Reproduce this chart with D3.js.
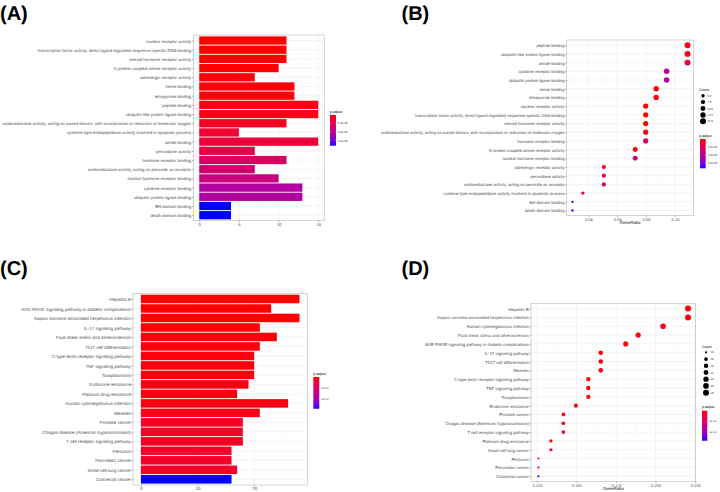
<!DOCTYPE html>
<html><head><meta charset="utf-8">
<script src="https://cdn.jsdelivr.net/npm/d3@7"></script>
<style>body{margin:0;background:#fff}svg{display:block}text{font-family:"Liberation Sans",Arial,sans-serif;text-rendering:geometricPrecision}</style>
</head><body>
<script>
// ---------- GO (panels A, B) ----------
const goTerms = [
 "nuclear receptor activity",
 "transcription factor activity, direct ligand regulated sequence-specific DNA binding",
 "steroid hormone receptor activity",
 "G protein-coupled amine receptor activity",
 "adrenergic receptor activity",
 "heme binding",
 "tetrapyrrole binding",
 "peptide binding",
 "ubiquitin-like protein ligase binding",
 "oxidoreductase activity, acting on paired donors, with incorporation or reduction of molecular oxygen",
 "cysteine-type endopeptidase activity involved in apoptotic process",
 "amide binding",
 "peroxidase activity",
 "hormone receptor binding",
 "oxidoreductase activity, acting on peroxide as acceptor",
 "nuclear hormone receptor binding",
 "cytokine receptor binding",
 "ubiquitin protein ligase binding",
 "BH domain binding",
 "death domain binding"
];
const goCounts = [11,11,11,10,7,12,12,15,15,11,5,15,7,11,7,10,13,13,4,4];
const goPadj = [2.0e-7,2.1e-7,2.2e-7,3.0e-7,4.0e-7,5.0e-7,5.0e-7,8.0e-7,9.0e-7,1.6e-6,2.5e-6,3.1e-6,4.1e-6,6.1e-6,7.0e-6,8.2e-6,1.09e-5,1.09e-5,1.8e-5,1.8e-5];
const goTotal = 138;
const goDotOrder = [
 "peptide binding","ubiquitin-like protein ligase binding","amide binding",
 "cytokine receptor binding","ubiquitin protein ligase binding",
 "heme binding","tetrapyrrole binding",
 "nuclear receptor activity",
 "transcription factor activity, direct ligand regulated sequence-specific DNA binding",
 "steroid hormone receptor activity",
 "oxidoreductase activity, acting on paired donors, with incorporation or reduction of molecular oxygen",
 "hormone receptor binding",
 "G protein-coupled amine receptor activity","nuclear hormone receptor binding",
 "adrenergic receptor activity","peroxidase activity",
 "oxidoreductase activity, acting on peroxide as acceptor",
 "cysteine-type endopeptidase activity involved in apoptotic process",
 "BH domain binding","death domain binding"
];
const goBarTicks = [0,5,10,15];
const goRatioTicks = [0.04,0.06,0.08,0.10];
const goPTicks = [5e-6,1e-5,1.5e-5];
const goPTickLabels = ["5.0e-06","1.0e-05","1.5e-05"];
const goCountTicks = [5,7.5,10,12.5,15];
const goCountTickLabels = ["5.0","7.5","10.0","12.5","15.0"];

// ---------- KEGG (panels C, D) ----------
const keggTerms = [
 "Hepatitis B",
 "AGE-RAGE signaling pathway in diabetic complications",
 "Kaposi sarcoma-associated herpesvirus infection",
 "IL-17 signaling pathway",
 "Fluid shear stress and atherosclerosis",
 "Th17 cell differentiation",
 "C-type lectin receptor signaling pathway",
 "TNF signaling pathway",
 "Toxoplasmosis",
 "Endocrine resistance",
 "Platinum drug resistance",
 "Human cytomegalovirus infection",
 "Measles",
 "Prostate cancer",
 "Chagas disease (American trypanosomiasis)",
 "T cell receptor signaling pathway",
 "Pertussis",
 "Pancreatic cancer",
 "Small cell lung cancer",
 "Colorectal cancer"
];
const keggCounts = [28,23,28,21,24,21,20,20,20,19,17,26,21,18,18,18,16,16,17,16];
const keggPadj = [3e-14,4e-14,5e-14,6e-14,7e-14,8e-14,9e-14,9e-14,9e-14,1.0e-13,1.1e-13,1.2e-13,1.4e-13,2.6e-13,2.6e-13,2.6e-13,3.0e-13,3.0e-13,3.1e-13,2.83e-12];
const keggTotal = 127;
const keggDotOrder = [
 "Hepatitis B","Kaposi sarcoma-associated herpesvirus infection","Human cytomegalovirus infection",
 "Fluid shear stress and atherosclerosis","AGE-RAGE signaling pathway in diabetic complications",
 "IL-17 signaling pathway","Th17 cell differentiation","Measles",
 "C-type lectin receptor signaling pathway","TNF signaling pathway","Toxoplasmosis",
 "Endocrine resistance","Prostate cancer","Chagas disease (American trypanosomiasis)",
 "T cell receptor signaling pathway","Platinum drug resistance","Small cell lung cancer",
 "Pertussis","Pancreatic cancer","Colorectal cancer"
];
const keggBarTicks = [0,10,20];
const keggRatioTicks = [0.125,0.150,0.175,0.200,0.225];
const keggPTicks = [1e-12,2e-12];
const keggPTickLabels = ["1e-12","2e-12"];
const keggCountTicks = [16,18,20,22,24,26,28];
const keggCountTickLabels = ["16","18","20","22","24","26","28"];

const panelLabels = ["(A)","(B)","(C)","(D)"];

// ---------- drawing ----------
const W = 720, H = 492;
const svg = d3.select("body").append("svg").attr("width", W).attr("height", H);
svg.append("rect").attr("width", W).attr("height", H).attr("fill", "#fff");
const defs = svg.append("defs");

const GRID = "#EBEBEB", GRIDMINOR = "#F4F4F4", BORDER = "#B8B8B8", AXTXT = "#4D4D4D";

// font size that makes a given string span a given width
function fitSize(str, width) {
  const t = svg.append("text").attr("font-size", 10).text(str);
  const w = t.node().getComputedTextLength();
  t.remove();
  return 10 * width / w;
}

function colorScale(padj) {
  const ext = d3.extent(padj);
  return d3.scaleLinear().domain(ext).range(["#FF0000", "#0000FF"]).interpolate(d3.interpolateLab);
}

function frame(g, box) {
  g.append("rect").attr("x", box.l).attr("y", box.t).attr("width", box.r - box.l).attr("height", box.b - box.t)
    .attr("fill", "#fff");
}
function border(g, box) {
  g.append("rect").attr("x", box.l).attr("y", box.t).attr("width", box.r - box.l).attr("height", box.b - box.t)
    .attr("fill", "none").attr("stroke", BORDER).attr("stroke-width", 0.6);
}
function vgrid(g, x, box, majors) {
  const [d0, d1] = x.domain();
  const step = majors[1] - majors[0];
  const minors = [];
  for (let v = majors[0] - step / 2; v <= d1; v += step) if (v >= d0) minors.push(v);
  g.selectAll(null).data(minors).join("line")
    .attr("x1", d => x(d)).attr("x2", d => x(d)).attr("y1", box.t).attr("y2", box.b)
    .attr("stroke", GRIDMINOR).attr("stroke-width", 0.35);
  g.selectAll(null).data(majors).join("line")
    .attr("x1", d => x(d)).attr("x2", d => x(d)).attr("y1", box.t).attr("y2", box.b)
    .attr("stroke", GRID).attr("stroke-width", 0.6);
}
function hgrid(g, y, box) {
  g.selectAll(null).data(y.domain()).join("line")
    .attr("x1", box.l).attr("x2", box.r).attr("y1", d => y(d)).attr("y2", d => y(d))
    .attr("stroke", GRID).attr("stroke-width", 0.6);
}
function axes(g, x, y, box, ticks, fmt, yfs, xfs) {
  const ya = g.append("g").attr("transform", `translate(${box.l},0)`)
    .call(d3.axisLeft(y).tickSize(1.3).tickPadding(0.8));
  ya.select(".domain").remove();
  ya.selectAll("line").attr("stroke", "#333").attr("stroke-width", 0.4);
  ya.selectAll("text").attr("fill", AXTXT).attr("font-size", yfs).attr("dy", "0.35em")
    .style("font-family", '"Liberation Sans",Arial,sans-serif');
  const xa = g.append("g").attr("transform", `translate(0,${box.b})`)
    .call(d3.axisBottom(x).tickValues(ticks).tickFormat(fmt).tickSize(1.3).tickPadding(1));
  xa.select(".domain").remove();
  xa.selectAll("line").attr("stroke", "#333").attr("stroke-width", 0.4);
  xa.selectAll("text").attr("fill", AXTXT).attr("font-size", xfs)
    .style("font-family", '"Liberation Sans",Arial,sans-serif');
}
function colorbar(g, id, col, padj, leg, ticks, labels) {
  const ext = d3.extent(padj);
  const grad = defs.append("linearGradient").attr("id", id).attr("x1", 0).attr("x2", 0).attr("y1", 0).attr("y2", 1);
  d3.range(0, 1.0001, 0.05).forEach(t => grad.append("stop").attr("offset", t)
    .attr("stop-color", col(ext[0] + t * (ext[1] - ext[0]))));
  g.append("text").attr("x", leg.x).attr("y", leg.titleY).attr("font-size", leg.tfs).attr("fill", "#000").text("p.adjust");
  g.append("rect").attr("x", leg.x + leg.dx).attr("y", leg.t).attr("width", leg.w).attr("height", leg.b - leg.t)
    .attr("fill", `url(#${id})`);
  const s = d3.scaleLinear().domain(ext).range([leg.t, leg.b]);
  ticks.forEach((v, i) => {
    g.append("line").attr("x1", leg.x + leg.dx).attr("x2", leg.x + leg.dx + 1).attr("y1", s(v)).attr("y2", s(v)).attr("stroke", "#fff").attr("stroke-width", 0.3);
    g.append("line").attr("x1", leg.x + leg.dx + leg.w - 1).attr("x2", leg.x + leg.dx + leg.w).attr("y1", s(v)).attr("y2", s(v)).attr("stroke", "#fff").attr("stroke-width", 0.3);
    g.append("text").attr("x", leg.x + leg.dx + leg.w + 1.8).attr("y", s(v)).attr("dy", "0.35em")
      .attr("font-size", leg.lfs).attr("fill", "#333").text(labels[i]);
  });
}

function barPanel(o) {
  const g = svg.append("g");
  const max = d3.max(o.values);
  const x = d3.scaleLinear().domain([-0.05 * max, 1.05 * max]).range([o.box.l, o.box.r]);
  const y = d3.scalePoint().domain(o.terms).range([o.box.t, o.box.b]).padding(0.6);
  const col = colorScale(o.padj);
  frame(g, o.box);
  vgrid(g, x, o.box, o.ticks);
  hgrid(g, y, o.box);
  const bh = y.step() * 0.9;
  g.selectAll(null).data(o.terms).join("rect")
    .attr("x", x(0)).attr("y", d => y(d) - bh / 2)
    .attr("width", (d, i) => x(o.values[i]) - x(0)).attr("height", bh)
    .attr("fill", (d, i) => col(o.padj[i]));
  border(g, o.box);
  axes(g, x, y, o.box, o.ticks, d3.format("d"), o.yfs, o.xfs);
  colorbar(g, o.id, col, o.padj, o.leg, o.pTicks, o.pLabels);
}

function dotPanel(o) {
  const g = svg.append("g");
  const ratio = o.order.map(t => o.counts[o.terms.indexOf(t)] / o.total);
  const ext = d3.extent(ratio);
  const pad = (ext[1] - ext[0]) * 0.05;
  const x = d3.scaleLinear().domain([ext[0] - pad, ext[1] + pad]).range([o.box.l, o.box.r]);
  const y = d3.scalePoint().domain(o.order).range([o.box.t, o.box.b]).padding(0.6);
  const col = colorScale(o.padj);
  const cext = d3.extent(o.counts);
  const sz = d3.scaleLinear().domain([0, 1]).range(o.sizeRange);
  const diam = c => sz(Math.sqrt((c - cext[0]) / (cext[1] - cext[0])));
  frame(g, o.box);
  vgrid(g, x, o.box, o.ticks);
  hgrid(g, y, o.box);
  g.selectAll(null).data(o.order).join("circle")
    .attr("cx", (d, i) => x(ratio[i])).attr("cy", d => y(d))
    .attr("r", d => diam(o.counts[o.terms.indexOf(d)]) / 2)
    .attr("fill", d => col(o.padj[o.terms.indexOf(d)]));
  border(g, o.box);
  axes(g, x, y, o.box, o.ticks, o.fmt, o.yfs, o.xfs);
  g.append("text").attr("x", (o.box.l + o.box.r) / 2).attr("y", o.box.b + 8.6).attr("text-anchor", "middle")
    .attr("font-size", o.xtfs).attr("fill", "#000").text("GeneRatio");
  const L = o.sizeLeg;
  g.append("text").attr("x", L.x).attr("y", L.titleY).attr("font-size", L.tfs).attr("fill", "#000").text("Count");
  o.countTicks.forEach((c, i) => {
    const cy = L.y0 + i * L.dy;
    g.append("circle").attr("cx", L.cx).attr("cy", cy).attr("r", diam(c) / 2).attr("fill", "#000");
    g.append("text").attr("x", L.lx).attr("y", cy).attr("dy", "0.35em").attr("font-size", L.lfs).attr("fill", "#333").text(o.countLabels[i]);
  });
  colorbar(g, o.id, col, o.padj, o.leg, o.pTicks, o.pLabels);
}

const fsA = fitSize(goTerms[1], 154);
const fsB = fitSize(goTerms[1], 150);
const fsC = fitSize(keggTerms[1], 110);
const fsD = fitSize(keggTerms[1], 104);

barPanel({terms: goTerms, values: goCounts, padj: goPadj, ticks: goBarTicks, id: "gA",
  box: {l: 193.3, r: 324.2, t: 35, b: 220.7}, yfs: fsA, xfs: 4.2,
  leg: {x: 330, titleY: 112.5, tfs: 3.6, dx: 0, w: 6, t: 115, b: 145.7, lfs: 2.9},
  pTicks: goPTicks, pLabels: goPTickLabels});

dotPanel({terms: goTerms, counts: goCounts, padj: goPadj, total: goTotal, order: goDotOrder,
  ticks: goRatioTicks, fmt: d3.format(".2f"), id: "gB",
  box: {l: 566.7, r: 693.3, t: 40, b: 215.7}, yfs: fsB, xfs: 4.0, xtfs: 4.4,
  sizeRange: [2.3, 5.9],
  sizeLeg: {x: 699.3, titleY: 90.5, tfs: 3.6, cx: 703, lx: 707.3, y0: 95.7, dy: 6.4, lfs: 2.9},
  countTicks: goCountTicks, countLabels: goCountTickLabels,
  leg: {x: 699.3, titleY: 136.8, tfs: 3.6, dx: 0.7, w: 5.7, t: 139, b: 168.3, lfs: 2.9},
  pTicks: goPTicks, pLabels: goPTickLabels});

barPanel({terms: keggTerms, values: keggCounts, padj: keggPadj, ticks: keggBarTicks, id: "gC",
  box: {l: 133, r: 307.4, t: 293.3, b: 485}, yfs: fsC, xfs: 4.4,
  leg: {x: 313.3, titleY: 374.5, tfs: 3.6, dx: 0, w: 6, t: 377, b: 408.7, lfs: 2.9},
  pTicks: keggPTicks, pLabels: keggPTickLabels});

dotPanel({terms: keggTerms, counts: keggCounts, padj: keggPadj, total: keggTotal, order: keggDotOrder,
  ticks: keggRatioTicks, fmt: d3.format(".3f"), id: "gD",
  box: {l: 531, r: 695.5, t: 303.3, b: 481.5}, yfs: fsD, xfs: 4.0, xtfs: 4.4,
  sizeRange: [2.1, 6.0],
  sizeLeg: {x: 702, titleY: 347.5, tfs: 3.6, cx: 706, lx: 710.5, y0: 352.3, dy: 6.73, lfs: 2.9},
  countTicks: keggCountTicks, countLabels: keggCountTickLabels,
  leg: {x: 702, titleY: 408, tfs: 3.6, dx: 0, w: 5.3, t: 410.7, b: 440.7, lfs: 2.9},
  pTicks: keggPTicks, pLabels: keggPTickLabels});

const tagPos = [[0, 20], [401.5, 20], [0, 275], [401.5, 275]];
panelLabels.forEach((t, i) => svg.append("text").attr("x", tagPos[i][0]).attr("y", tagPos[i][1])
  .attr("font-size", 20).attr("font-weight", "bold").attr("fill", "#000")
  .style("font-family", '"Liberation Sans",Arial,sans-serif').text(t));
</script>
</body></html>
